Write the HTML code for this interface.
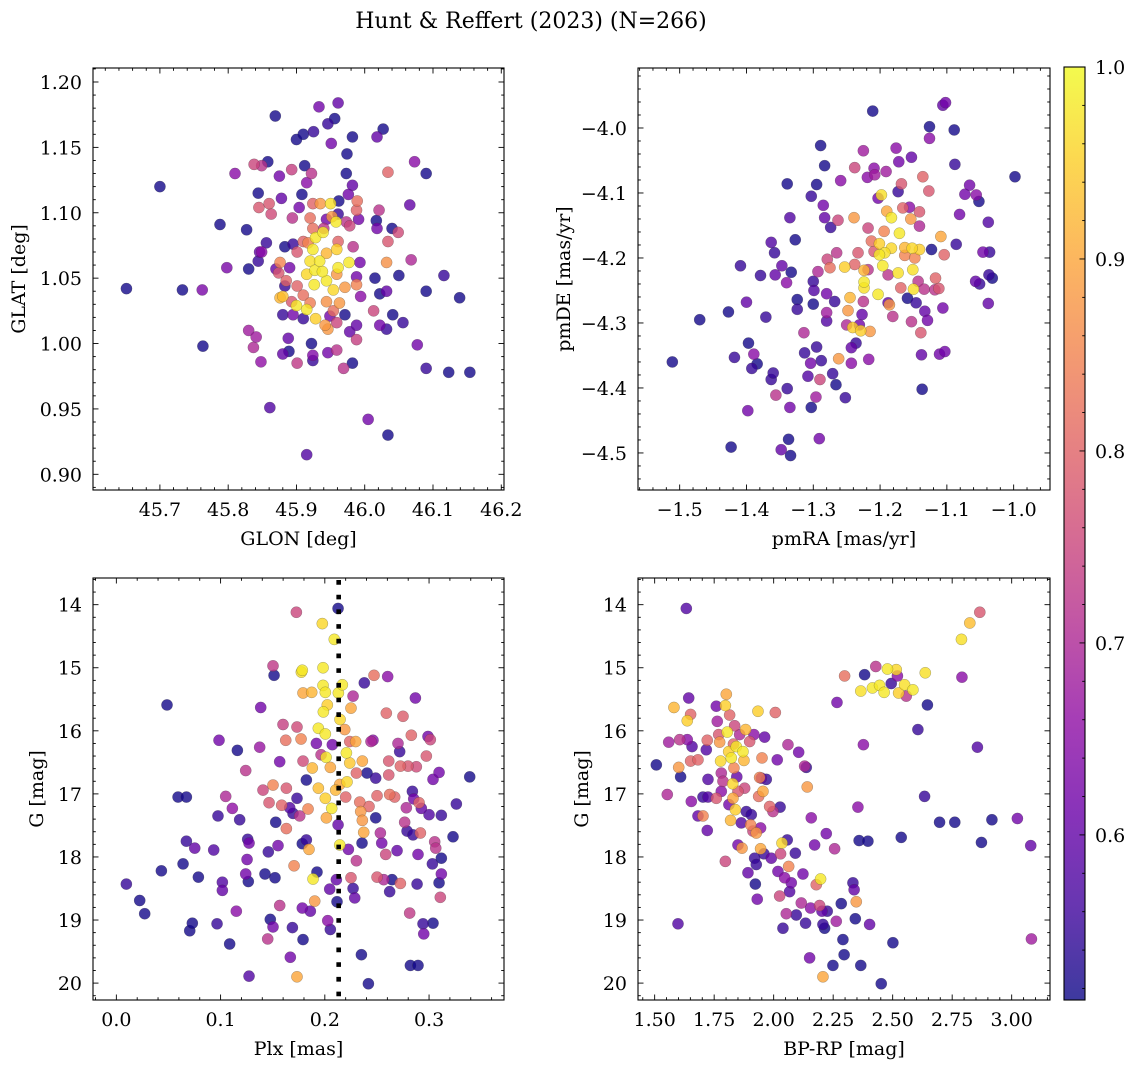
<!DOCTYPE html>
<html><head><meta charset="utf-8"><title>Hunt &amp; Reffert (2023)</title>
<style>
html,body{margin:0;padding:0;background:#fff;}
svg{display:block;font-family:"DejaVu Serif","Liberation Serif",serif;}
</style></head>
<body>
<svg id="fig" xmlns="http://www.w3.org/2000/svg" width="1136" height="1067" viewBox="0 0 1136 1067">
<text x="531" y="28" font-size="22" text-anchor="middle">Hunt &amp; Reffert (2023) (N=266)</text>
</svg>
<script>
// ---------- Panel 1: GLON / GLAT ----------
const glon = [45.651,45.700,45.733,45.762,45.763,45.788,45.798,45.810,45.827,45.830,
45.830,45.837,45.841,45.844,45.845,45.848,45.849,45.838,45.849,45.858,
45.860,45.861,45.863,45.869,45.870,45.875,45.876,45.878,45.880,45.880,
45.883,45.888,45.889,45.893,45.894,45.900,45.901,45.904,45.910,45.908,
45.912,45.915,45.915,45.922,45.922,45.924,45.924,45.925,45.924,45.920,
45.933,45.946,45.951,45.956,45.961,45.974,45.982,45.973,45.982,45.976,
45.962,45.989,45.988,45.991,46.017,46.018,46.021,46.018,46.027,46.034,
46.034,46.040,46.049,46.032,46.050,46.068,46.066,46.073,46.090,46.090,
46.116,46.139,46.015,46.022,46.032,45.994,46.013,46.041,46.056,46.022,
46.032,46.077,46.090,46.123,46.154,46.005,46.034,45.982,45.969,45.988,
45.978,45.988,45.946,45.959,45.971,45.959,45.946,45.942,45.963,45.944,
45.928,45.915,45.900,45.880,45.885,45.901,45.910,45.920,45.954,45.944,
45.926,45.915,45.927,45.938,45.961,45.977,45.959,45.971,45.988,45.988,
45.993,45.983,45.959,45.944,45.924,45.920,45.934,45.928,45.939,45.917,
45.901,45.895,45.910,45.924,45.958,45.952,45.935,45.950,45.961,45.944,
45.978,45.973,45.961,45.890,45.874,45.883,45.893,45.876,45.895,45.910,
45.949,45.954,45.940,45.856,45.844,45.846];
const glat = [1.042,1.120,1.041,1.041,0.998,1.091,1.058,1.130,1.087,1.057,
1.010,0.997,1.005,1.115,1.104,0.986,1.070,1.137,1.136,1.139,
1.107,0.951,1.099,1.174,1.057,1.128,1.062,1.111,1.022,0.992,
1.074,1.004,0.994,1.133,1.096,1.156,0.985,1.104,1.160,1.114,
1.136,0.915,1.123,1.130,1.000,0.987,0.991,1.162,1.107,1.096,
1.181,1.168,1.153,1.172,1.184,1.145,1.158,1.130,1.121,1.114,
1.109,1.109,1.102,1.095,1.094,1.088,1.102,1.158,1.164,1.131,
1.078,1.088,1.085,1.062,1.052,1.064,1.106,1.139,1.130,1.040,
1.052,1.035,1.050,1.038,1.040,1.036,1.025,1.022,1.016,1.014,
1.011,0.999,0.981,0.978,0.978,0.942,0.930,0.985,0.981,1.003,
1.009,1.014,0.993,0.995,1.022,1.016,1.011,1.014,1.031,1.032,
1.019,1.026,1.029,1.036,1.048,1.044,1.037,1.031,1.041,1.048,
1.045,1.053,1.056,1.055,1.058,1.062,1.053,1.043,1.045,1.051,
1.062,1.074,1.072,1.069,1.072,1.063,1.063,1.081,1.085,1.077,
1.070,1.076,1.078,1.088,1.093,1.097,1.107,1.107,1.099,1.095,
1.090,1.093,1.078,1.058,1.054,1.044,1.032,1.035,1.022,1.019,
1.021,1.025,1.088,1.077,1.063,1.070];
const prob1 = [.52,.52,.52,.63,.52,.52,.63,.65,.52,.52,
.68,.70,.68,.52,.78,.66,.65,.75,.72,.52,
.78,.58,.76,.52,.60,.62,.85,.60,.55,.60,
.52,.60,.52,.74,.72,.52,.73,.62,.52,.52,
.52,.58,.65,.72,.52,.55,.64,.55,.80,.82,
.62,.55,.62,.52,.60,.52,.52,.52,.60,.62,
.52,.82,.80,.62,.52,.62,.72,.60,.52,.80,
.78,.52,.76,.87,.52,.70,.60,.65,.52,.52,
.55,.52,.52,.52,.60,.65,.75,.52,.55,.62,
.55,.62,.55,.52,.52,.62,.52,.52,.72,.74,
.60,.60,.62,.72,.52,.75,.88,.88,.88,.87,
.95,.98,.98,.93,.80,.80,.82,.84,.96,.98,
.98,.96,.98,.98,.98,.98,.88,.88,.85,.62,
.62,.72,.95,.92,.98,.97,.98,.98,.98,.85,
.78,.55,.80,.82,.98,.88,.88,.97,.55,.62,
.75,.72,.80,.62,.78,.55,.78,.92,.62,.55,
.62,.82,.72,.55,.55,.60];

// ---------- Panel 2: pmRA / pmDE ----------
const pmra = [-1.511,-1.470,-1.427,-1.423,-1.418,-1.409,-1.400,-1.397,-1.392,-1.389,
-1.384,-1.398,-1.379,-1.371,-1.363,-1.363,-1.360,-1.358,-1.357,-1.356,
-1.348,-1.347,-1.340,-1.339,-1.337,-1.335,-1.334,-1.339,-1.335,-1.333,
-1.327,-1.324,-1.324,-1.314,-1.313,-1.308,-1.304,-1.303,-1.300,-1.300,
-1.299,-1.296,-1.303,-1.295,-1.295,-1.293,-1.291,-1.290,-1.289,-1.288,
-1.285,-1.283,-1.283,-1.280,-1.280,-1.280,-1.279,-1.275,-1.274,-1.271,
-1.268,-1.266,-1.265,-1.263,-1.262,-1.259,-1.253,-1.252,-1.250,-1.248,
-1.245,-1.243,-1.243,-1.241,-1.238,-1.239,-1.238,-1.236,-1.233,-1.231,
-1.229,-1.227,-1.225,-1.225,-1.224,-1.224,-1.224,-1.218,-1.218,-1.217,
-1.215,-1.219,-1.213,-1.211,-1.209,-1.209,-1.208,-1.203,-1.203,-1.201,
-1.201,-1.198,-1.196,-1.194,-1.193,-1.191,-1.190,-1.188,-1.188,-1.186,
-1.183,-1.183,-1.181,-1.176,-1.173,-1.172,-1.173,-1.171,-1.169,-1.168,
-1.166,-1.163,-1.163,-1.159,-1.156,-1.154,-1.153,-1.153,-1.152,-1.151,
-1.150,-1.148,-1.146,-1.143,-1.141,-1.141,-1.141,-1.139,-1.138,-1.137,
-1.136,-1.134,-1.133,-1.129,-1.127,-1.126,-1.126,-1.123,-1.118,-1.117,
-1.112,-1.111,-1.109,-1.106,-1.104,-1.106,-1.102,-1.103,-1.089,-1.088,
-1.086,-1.081,-1.073,-1.066,-1.057,-1.056,-1.052,-1.051,-1.046,-1.038,
-1.038,-1.036,-1.037,-1.032,-0.998];
const pmde = [-4.360,-4.295,-4.283,-4.491,-4.353,-4.212,-4.268,-4.331,-4.370,-4.348,
-4.363,-4.435,-4.227,-4.291,-4.176,-4.387,-4.377,-4.192,-4.226,-4.411,
-4.495,-4.212,-4.238,-4.401,-4.479,-4.430,-4.504,-4.086,-4.138,-4.222,
-4.172,-4.264,-4.279,-4.315,-4.346,-4.382,-4.362,-4.430,-4.236,-4.271,
-4.250,-4.414,-4.105,-4.087,-4.337,-4.221,-4.478,-4.387,-4.027,-4.358,
-4.119,-4.138,-4.058,-4.255,-4.297,-4.284,-4.202,-4.215,-4.153,-4.378,
-4.267,-4.395,-4.192,-4.142,-4.355,-4.081,-4.214,-4.415,-4.303,-4.281,
-4.261,-4.338,-4.362,-4.307,-4.210,-4.138,-4.061,-4.331,-4.192,-4.303,
-4.312,-4.287,-4.267,-4.035,-4.219,-4.246,-4.237,-4.154,-4.218,-4.356,
-4.313,-4.076,-4.174,-3.974,-4.062,-4.190,-4.072,-4.256,-4.108,-4.178,
-4.195,-4.103,-4.212,-4.159,-4.192,-4.067,-4.128,-4.226,-4.269,-4.272,
-4.138,-4.185,-4.290,-4.031,-4.223,-4.052,-4.098,-4.162,-4.246,-4.086,
-4.123,-4.184,-4.196,-4.262,-4.122,-4.140,-4.045,-4.298,-4.185,-4.218,
-4.248,-4.200,-4.269,-4.236,-4.151,-4.129,-4.187,-4.315,-4.349,-4.402,
-4.075,-4.248,-4.282,-4.296,-4.097,-4.016,-3.998,-4.187,-4.249,-4.231,
-4.247,-4.348,-4.167,-4.277,-4.195,-3.965,-3.961,-4.344,-4.003,-4.056,
-4.179,-4.133,-4.102,-4.088,-4.236,-4.103,-4.113,-4.240,-4.191,-4.145,
-4.270,-4.191,-4.226,-4.231,-4.075];
const prob2 = [.52,.52,.52,.52,.55,.55,.60,.52,.55,.65,
.52,.62,.55,.55,.58,.55,.55,.55,.60,.72,
.60,.60,.65,.55,.52,.62,.52,.52,.58,.52,
.52,.52,.55,.70,.55,.58,.62,.52,.55,.52,
.58,.68,.55,.52,.55,.70,.62,.75,.52,.55,
.62,.60,.52,.62,.58,.68,.75,.82,.55,.55,
.55,.52,.72,.75,.88,.65,.95,.55,.70,.88,
.92,.60,.65,.95,.80,.88,.75,.55,.78,.62,
.95,.60,.72,.68,.92,.97,.98,.75,.72,.65,
.88,.65,.82,.52,.65,.78,.68,.98,.62,.95,
.98,.97,.98,.85,.97,.68,.90,.72,.60,.88,
.98,.96,.72,.65,.97,.62,.55,.98,.80,.78,
.80,.92,.85,.52,.65,.88,.60,.72,.96,.97,
.97,.85,.55,.72,.70,.78,.95,.78,.60,.52,
.80,.72,.60,.62,.78,.65,.52,.52,.72,.80,
.78,.62,.90,.62,.80,.60,.62,.62,.52,.55,
.55,.62,.62,.62,.60,.65,.52,.55,.62,.58,
.60,.55,.55,.52,.52];

// ---------- Panel 3: Plx / G ----------
const plx = [.0096,.0224,.0272,.0432,.0486,.0592,.0672,.0640,.0672,.0704,
.0729,.0752,.0787,.0934,.0966,.0975,.0985,.1017,.1017,.1049,
.1087,.1113,.1151,.1161,.1183,.1241,.1254,.1260,.1273,.1241,
.1266,.1273,.1375,.1385,.1407,.1426,.1458,.1465,.1477,.1503,
.1452,.1503,.1503,.1513,.1522,.1529,.1551,.1567,.1567,.1586,
.1599,.1625,.1631,.1631,.1663,.1669,.1689,.1695,.1705,.1727,
.1733,.1733,.1733,.1759,.1784,.1784,.1791,.1772,.1775,.1784,
.1791,.1791,.1823,.1823,.1848,.1839,.1861,.1874,.1880,.1887,
.1903,.1919,.1925,.1938,.1938,.1964,.1976,.1983,.1983,.1986,
.2005,.2005,.2005,.2012,.2015,.2024,.2028,.2047,.2053,.2053,
.2066,.2072,.2091,.2104,.2111,.2117,.2127,.2130,.2127,.2143,
.2146,.2143,.2168,.2191,.2207,.2200,.2213,.2226,.2239,.2239,
.2251,.2251,.2271,.2271,.2287,.2296,.2303,.2303,.2335,.2344,
.2360,.2357,.2360,.2351,.2373,.2379,.2405,.2418,.2424,.2443,
.2462,.2472,.2488,.2488,.2501,.2501,.2533,.2546,.2565,.2584,
.2590,.2603,.2613,.2613,.2622,.2622,.2645,.2670,.2693,.2702,
.2718,.2725,.2725,.2750,.2766,.2782,.2789,.2798,.2814,.2821,
.2830,.2840,.2846,.2853,.2869,.2878,.2885,.2894,.2894,.2904,
.2917,.2926,.2942,.2949,.2974,.2990,.3000,.3012,.3032,.3038,
.3038,.3054,.3064,.3096,.3096,.3108,.3118,.3118,.3118,.3262,
.3230,.3390];
const gmag3 = [18.43,18.69,18.90,18.22,15.59,17.05,17.05,18.11,17.75,19.17,
19.05,17.86,18.32,17.89,19.06,17.35,16.15,18.40,18.53,17.04,
19.38,17.23,18.86,16.31,17.41,16.63,18.04,17.72,17.78,18.27,
18.39,19.89,16.26,15.63,16.94,18.27,17.92,17.14,18.99,19.11,
19.30,16.86,14.97,15.12,18.33,17.45,17.82,16.49,18.77,17.18,
15.90,16.15,16.91,17.55,17.22,19.59,19.12,17.31,18.14,14.12,
19.90,17.07,15.94,17.35,17.79,18.81,19.31,16.13,15.07,15.04,
16.48,15.40,16.78,17.73,17.88,17.24,18.86,15.39,16.59,18.35,
18.70,16.20,18.24,16.91,15.96,16.38,14.30,15.00,15.28,15.70,
17.07,15.39,16.05,16.42,17.38,15.59,19.01,18.51,19.15,16.58,
17.23,16.22,14.55,16.94,18.36,18.71,14.06,15.40,17.49,17.81,
15.82,16.85,15.27,15.98,16.35,17.05,16.81,17.88,16.51,16.17,
18.33,15.64,15.45,18.50,18.65,16.17,16.67,18.06,17.13,17.28,
16.48,17.78,17.42,19.55,17.61,15.24,16.67,20.01,17.20,16.17,
16.15,15.12,16.75,17.38,17.03,18.32,17.62,17.78,18.36,17.96,
15.72,15.14,16.48,16.70,17.01,18.55,18.36,17.05,17.90,16.20,
16.33,18.42,16.56,15.77,17.45,17.22,17.59,16.56,18.89,19.72,
16.07,16.96,17.65,17.08,15.48,16.57,18.43,19.72,17.96,17.14,
17.62,17.23,19.06,19.22,16.40,16.09,17.33,16.14,18.11,19.05,
16.77,17.76,17.86,16.66,18.41,18.64,18.27,17.34,18.02,17.16,
17.68,16.73];
const prob3 = [.55,.52,.52,.52,.52,.52,.52,.52,.55,.52,
.52,.60,.52,.58,.55,.55,.62,.58,.60,.70,
.52,.66,.65,.52,.55,.72,.62,.55,.62,.62,
.52,.58,.67,.62,.75,.52,.55,.78,.52,.62,
.72,.85,.73,.52,.52,.52,.62,.62,.72,.80,
.74,.82,.78,.82,.58,.62,.55,.55,.85,.75,
.90,.55,.76,.72,.52,.62,.52,.85,.97,.98,
.76,.90,.52,.55,.90,.85,.60,.92,.92,.98,
.88,.62,.52,.93,.98,.72,.96,.98,.98,.98,
.95,.98,.98,.98,.90,.95,.65,.60,.55,.90,
.98,.62,.98,.92,.60,.52,.52,.98,.60,.98,
.96,.90,.98,.88,.98,.80,.96,.62,.94,.80,
.78,.90,.70,.55,.60,.90,.80,.72,.82,.88,
.90,.52,.88,.52,.90,.55,.52,.52,.80,.70,
.65,.82,.55,.52,.80,.78,.70,.62,.70,.75,
.80,.65,.78,.78,.82,.55,.52,.80,.60,.70,
.55,.80,.80,.79,.72,.70,.55,.78,.73,.52,
.80,.55,.55,.62,.62,.76,.55,.52,.62,.80,
.80,.60,.55,.62,.78,.62,.58,.75,.55,.52,
.62,.72,.72,.62,.52,.75,.62,.55,.52,.55,
.52,.52];
const plxLine = [0.2133];

// ---------- Panel 4: BP-RP / G ----------
const bprp = [1.507,1.553,1.581,1.598,1.601,1.609,1.633,1.637,1.643,1.651,
1.654,1.559,1.605,1.637,1.657,1.651,1.682,1.682,1.703,1.721,
1.717,1.721,1.724,1.703,1.724,1.759,1.763,1.759,1.769,1.773,
1.777,1.780,1.780,1.787,1.797,1.797,1.801,1.805,1.811,1.812,
1.815,1.819,1.822,1.828,1.829,1.831,1.833,1.836,1.839,1.843,
1.845,1.850,1.850,1.857,1.864,1.867,1.871,1.875,1.878,1.882,
1.885,1.892,1.899,1.903,1.906,1.913,1.917,1.920,1.923,1.927,
1.927,1.931,1.934,1.937,1.941,1.945,1.945,1.948,1.951,1.955,
1.959,1.962,1.969,1.983,1.990,1.997,2.007,2.015,2.018,2.025,
2.027,2.029,2.035,2.039,2.046,2.053,2.057,2.060,2.063,2.067,
2.074,2.091,2.095,2.105,2.116,2.123,2.130,2.137,2.134,2.141,
2.151,2.155,2.158,2.172,2.179,2.193,2.197,2.203,2.207,2.207,
2.214,2.221,2.225,2.249,2.256,2.263,2.266,2.284,2.291,2.296,
2.298,2.333,2.338,2.343,2.347,2.354,2.359,2.366,2.366,2.377,
2.382,2.396,2.403,2.415,2.429,2.445,2.452,2.464,2.478,2.494,
2.501,2.515,2.520,2.525,2.536,2.550,2.557,2.585,2.606,2.634,
2.637,2.646,2.697,2.761,2.789,2.791,2.824,2.856,2.866,2.873,
2.917,3.024,3.080,3.083];
const gmag4 = [16.54,17.01,15.63,19.06,16.58,16.73,14.06,15.84,15.48,15.74,
17.12,16.18,16.14,16.14,16.25,16.48,16.46,17.35,17.35,17.58,
16.30,16.15,16.77,17.05,17.05,15.61,15.85,17.07,16.06,16.18,
16.48,16.67,16.96,16.80,15.60,18.07,15.42,16.02,16.33,17.17,
15.75,17.42,16.43,16.84,17.07,16.21,16.59,15.92,17.25,16.25,
16.73,17.81,16.96,16.06,17.46,17.86,16.33,16.47,16.91,15.98,
17.28,18.25,16.17,17.49,17.33,17.59,16.06,18.02,18.43,17.62,
18.12,18.67,15.69,17.04,16.74,17.87,17.54,16.75,16.43,16.96,
17.95,16.10,16.77,17.20,18.02,17.28,15.71,16.46,18.23,18.62,
17.21,17.95,17.78,19.13,18.33,18.90,17.73,16.22,18.15,18.55,
18.41,17.94,18.92,16.34,18.73,18.27,16.56,16.58,19.05,16.89,
19.60,18.81,17.38,17.81,18.44,18.77,18.35,18.86,19.07,19.90,
19.13,17.63,18.86,19.72,17.87,19.02,15.55,18.74,19.31,19.55,
15.13,18.41,18.52,18.98,18.71,17.21,17.74,15.37,19.72,16.22,
15.11,17.75,19.07,15.32,14.98,15.28,20.01,15.39,15.02,15.25,
19.36,15.03,15.13,15.40,17.69,15.27,15.45,15.35,15.98,17.04,
15.08,15.59,17.45,17.45,14.55,15.15,14.29,16.26,14.12,17.77,
17.41,17.39,17.82,19.30];
const prob4 = [.52,.70,.92,.58,.88,.52,.58,.95,.60,.80,
.65,.68,.72,.65,.58,.80,.80,.60,.85,.60,
.58,.80,.58,.55,.58,.62,.68,.78,.78,.88,
.96,.70,.65,.72,.95,.75,.90,.98,.95,.62,
.80,.92,.98,.96,.90,.80,.85,.75,.95,.98,
.60,.62,.78,.70,.58,.88,.98,.92,.75,.92,
.55,.60,.78,.85,.55,.75,.65,.55,.52,.88,
.55,.62,.95,.82,.85,.90,.65,.60,.85,.90,
.55,.60,.55,.80,.60,.72,.80,.62,.62,.75,
.55,.75,.96,.55,.65,.70,.55,.70,.85,.58,
.62,.55,.55,.62,.70,.62,.70,.55,.55,.88,
.62,.65,.65,.62,.80,.75,.98,.60,.55,.90,
.52,.62,.55,.52,.70,.68,.62,.52,.52,.52,
.82,.55,.60,.52,.88,.65,.52,.97,.52,.65,
.52,.52,.60,.98,.72,.98,.52,.98,.98,.55,
.52,.96,.65,.95,.52,.97,.72,.98,.55,.55,
.97,.52,.52,.52,.97,.65,.93,.58,.78,.52,
.52,.62,.60,.68];

// ---------- tick labels ----------
const ticks1x = ["45.7","45.8","45.9","46.0","46.1","46.2"];
const ticks1y = ["0.90","0.95","1.00","1.05","1.10","1.15","1.20"];
const ticks2x = ["-1.5","-1.4","-1.3","-1.2","-1.1","-1.0"];
const ticks2y = ["-4.5","-4.4","-4.3","-4.2","-4.1","-4.0"];
const ticks3x = ["0.0","0.1","0.2","0.3"];
const ticks3y = ["14","15","16","17","18","19","20"];
const ticks4x = ["1.50","1.75","2.00","2.25","2.50","2.75","3.00"];
const ticks4y = ["14","15","16","17","18","19","20"];
const cbarTicks = ["0.6","0.7","0.8","0.9","1.0"];

const VMIN = 0.514, VMAX = 1.0;
const FS = 19;
const PLASMA = ["#0d0887","#41049d","#6a00a8","#8f0da4","#b12a90","#cc4778","#e16462","#f2844b","#fca636","#fcce25","#f0f921"];
function hex(h){return [parseInt(h.substr(1,2),16),parseInt(h.substr(3,2),16),parseInt(h.substr(5,2),16)];}
function cmap(t){
  t=Math.max(0,Math.min(1,t));
  const f=t*10, i=Math.min(9,Math.floor(f)), r=f-i;
  const a=hex(PLASMA[i]), b=hex(PLASMA[i+1]);
  return "rgb("+[0,1,2].map(k=>Math.round(a[k]+(b[k]-a[k])*r)).join(",")+")";
}
function colorOf(p){return cmap((p-VMIN)/(VMAX-VMIN));}

const NS="http://www.w3.org/2000/svg";
const svg=document.getElementById("fig");
function mk(tag,attrs,parent){
  const e=document.createElementNS(NS,tag);
  for(const k in attrs) e.setAttribute(k,attrs[k]);
  (parent||svg).appendChild(e);
  return e;
}
function fmtLabel(s){return s.replace("-","\u2212");}

function drawPanel(cfg){
  const g=mk("g",{});
  
  
  const L=cfg.left,R=cfg.right,T=cfg.top,B=cfg.bottom;
  const sx=v=>L+(v-cfg.xmin)/(cfg.xmax-cfg.xmin)*(R-L);
  const sy=cfg.invert ? (v=>T+(v-cfg.ymin)/(cfg.ymax-cfg.ymin)*(B-T))
                      : (v=>B-(v-cfg.ymin)/(cfg.ymax-cfg.ymin)*(B-T));
  const idx=[];
  const n=Math.min(cfg.xs.length,cfg.ys.length,cfg.cs.length);
  for(let i=0;i<n;i++) idx.push(i);
  idx.sort((a,b)=>cfg.cs[a]-cfg.cs[b]);
  const pg=mk("g",{},g);
  
  
  idx.forEach(i=>{
    const c=mk("circle",{cx:sx(cfg.xs[i]).toFixed(2),cy:sy(cfg.ys[i]).toFixed(2),r:5.6,
      fill:colorOf(cfg.cs[i]),"fill-opacity":0.8,stroke:"#3a3a3a","stroke-opacity":0.45,"stroke-width":0.5},pg);
    
    
  });
  if(cfg.vline){
    cfg.vline.forEach(v=>{
      const l=mk("line",{x1:sx(v),x2:sx(v),y1:T+2,y2:B,stroke:"#000","stroke-width":4.6,"stroke-dasharray":"4.7,10"},g);
      
      
    });
  }
  const fr=mk("rect",{x:L,y:T,width:R-L,height:B-T,fill:"none",stroke:"#000","stroke-width":1.1},g);
  
  
  const tg=mk("g",{stroke:"#000","stroke-width":0.9},g);
  const xv=cfg.xticks.map(s=>parseFloat(s)), yv=cfg.yticks.map(s=>parseFloat(s));
  const xstep=(xv[1]-xv[0])/5, ystep=(yv[1]-yv[0])/5;
  for(let k=-10;k<=(xv.length+10)*5;k++){
    const v=xv[0]+k*xstep; const p=sx(v);
    if(p<L+0.5||p>R-0.5) continue;
    const len=(k%5===0)?5.5:2.8;
    mk("line",{x1:p,x2:p,y1:B,y2:B-len},tg); mk("line",{x1:p,x2:p,y1:T,y2:T+len},tg);
  }
  for(let k=-10;k<=(yv.length+10)*5;k++){
    const v=yv[0]+k*ystep; const p=sy(v);
    if(p<T+0.5||p>B-0.5) continue;
    const len=(k%5===0)?5.5:2.8;
    mk("line",{x1:L,x2:L+len,y1:p,y2:p},tg); mk("line",{x1:R,x2:R-len,y1:p,y2:p},tg);
  }
  cfg.xticks.forEach((s,i)=>{
    const t=mk("text",{x:sx(xv[i]),y:B+26,"font-size":FS,"text-anchor":"middle"},g);
    t.textContent=fmtLabel(s);
    
    
  });
  cfg.yticks.forEach((s,i)=>{
    const t=mk("text",{x:L-11,y:sy(yv[i])+7,"font-size":FS,"text-anchor":"end"},g);
    t.textContent=fmtLabel(s);
    
    
  });
  const xl=mk("text",{x:(L+R)/2,y:B+55,"font-size":FS,"text-anchor":"middle"},g);
  xl.textContent=cfg.xlabel;
  
  
  const yx=cfg.ylabelX, yy=(T+B)/2;
  const yl=mk("text",{x:yx,y:yy,"font-size":FS,"text-anchor":"middle",transform:"rotate(-90 "+yx+" "+yy+")"},g);
  yl.textContent=cfg.ylabel;
  
  
}

drawPanel({name:"glon-glat-panel",left:93,right:504,top:68,bottom:490,xmin:45.602,xmax:46.204,ymin:0.888,ymax:1.2107,
  xs:glon,ys:glat,cs:prob1,xticks:ticks1x,yticks:ticks1y,xlabel:"GLON [deg]",ylabel:"GLAT [deg]",ylabelX:25});
drawPanel({name:"pm-panel",left:638,right:1050,top:68,bottom:490,xmin:-1.5624,xmax:-0.9456,ymin:-4.557,ymax:-3.9077,
  xs:pmra,ys:pmde,cs:prob2,xticks:ticks2x,yticks:ticks2y,xlabel:"pmRA [mas/yr]",ylabel:"pmDE [mas/yr]",ylabelX:570});
drawPanel({name:"plx-g-panel",left:93,right:504,top:578,bottom:1000,xmin:-0.0224,xmax:0.3719,ymin:13.577,ymax:20.268,invert:true,
  xs:plx,ys:gmag3,cs:prob3,xticks:ticks3x,yticks:ticks3y,xlabel:"Plx [mas]",ylabel:"G [mag]",ylabelX:43,vline:plxLine});
drawPanel({name:"cmd-panel",left:638,right:1050,top:578,bottom:1000,xmin:1.430,xmax:3.161,ymin:13.577,ymax:20.268,invert:true,
  xs:bprp,ys:gmag4,cs:prob4,xticks:ticks4x,yticks:ticks4y,xlabel:"BP-RP [mag]",ylabel:"G [mag]",ylabelX:588});

// ---------- colorbar ----------
(function(){
  const L=1064,R=1085,T=67,B=1000;
  const cg=mk("g",{});
  
  
  const defs=mk("defs",{},cg);
  const grad=mk("linearGradient",{id:"cbgrad",x1:0,y1:1,x2:0,y2:0},defs);
  for(let i=0;i<=20;i++){
    const t=i/20;
    mk("stop",{offset:t,"stop-color":cmap(t)},grad);
  }
  const r=mk("rect",{x:L,y:T,width:R-L,height:B-T,fill:"url(#cbgrad)","fill-opacity":0.8},cg);
  
  
  mk("rect",{x:L,y:T,width:R-L,height:B-T,fill:"none",stroke:"#000","stroke-width":1.1},cg);
  const sy=v=>B-(v-VMIN)/(VMAX-VMIN)*(B-T);
  for(let k=0;k<=30;k++){
    const v=0.5+k*0.02; const p=sy(v);
    if(p<T+0.5||p>B-0.5) continue;
    const major=(k%5===0);
    mk("line",{x1:R,x2:R-(major?5.5:2.8),y1:p,y2:p,stroke:"#000","stroke-width":0.9},cg);
  }
  cbarTicks.forEach(s=>{
    const v=parseFloat(s);
    const t=mk("text",{x:R+10,y:sy(v)+7,"font-size":FS},cg);
    t.textContent=s;
    
    
  });
})();
</script>
</body></html>
